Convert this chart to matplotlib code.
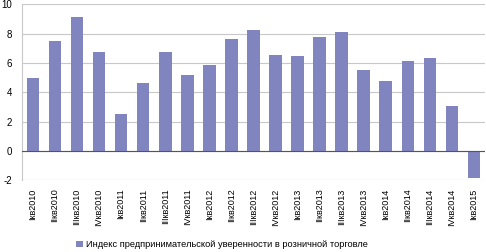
import matplotlib
matplotlib.use("Agg")
import matplotlib.pyplot as plt

quarters = ["Iкв2010", "IIкв2010", "IIIкв2010", "IVкв2010",
            "Iкв2011", "IIкв2011", "IIIкв2011", "IVкв2011",
            "Iкв2012", "IIкв2012", "IIIкв2012", "IVкв2012",
            "Iкв2013", "IIкв2013", "IIIкв2013", "IVкв2013",
            "Iкв2014", "IIкв2014", "IIIкв2014", "IVкв2014",
            "Iкв2015"]
index_values = [5.0, 7.5, 9.1, 6.77, 2.5, 4.61, 6.73, 5.2, 5.86, 7.61, 8.25,
                6.55, 6.48, 7.77, 8.11, 5.52, 4.77, 6.14, 6.34, 3.07, -1.86]
yticks = [-2, 0, 2, 4, 6, 8, 10]
legend_label = "Индекс предпринимательской уверенности в розничной торговле"

plt.rcParams['font.family'] = ['Liberation Sans', 'DejaVu Sans']

fig = plt.figure(figsize=(4.86, 2.52), dpi=100)
ax = fig.add_axes([0.045, 0.2845, 0.953, 0.6985])

x = list(range(len(quarters)))
ax.bar(x, index_values, width=0.57, color='#8085c0', label=legend_label, zorder=3)

ax.set_xlim(-0.5, len(quarters) - 0.5)
ax.set_ylim(-2, 10)
ax.set_yticks(yticks)
ax.set_yticklabels([str(t) for t in yticks], fontsize=7)
ax.set_xticks(x)
ax.set_xticklabels(quarters, rotation=90, fontsize=6.5)
ax.tick_params(axis='both', length=0)
ax.tick_params(axis='x', pad=6)
ax.tick_params(axis='y', pad=7)

ax.grid(axis='y', color='#c8c8c8', linewidth=0.8, zorder=0)
ax.axhline(0, color='#555555', linewidth=0.8, zorder=4)
for side in ['top', 'right', 'bottom']:
    ax.spines[side].set_visible(False)
ax.spines['left'].set_color('#c8c8c8')
ax.spines['left'].set_linewidth(0.8)

fig.legend(loc='center', bbox_to_anchor=(0.457, 0.028), frameon=False,
           fontsize=6.7, handlelength=0.7, handleheight=0.7, handletextpad=0.4)

fig.savefig("out.png", dpi=100)
